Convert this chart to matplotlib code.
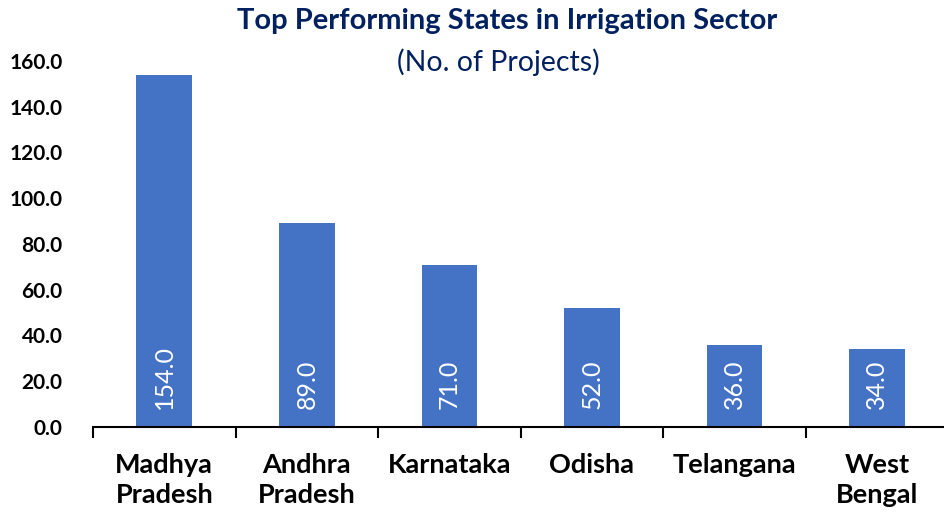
import matplotlib.pyplot as plt
import numpy as np

states = ['Madhya\nPradesh', 'Andhra\nPradesh', 'Karnataka', 'Odisha', 'Telangana', 'West\nBengal']
projects = [154.0, 89.0, 71.0, 52.0, 36.0, 34.0]
yticks = [0, 20, 40, 60, 80, 100, 120, 140, 160]

plt.rcParams['font.family'] = ['Lato', 'DejaVu Sans']

fig = plt.figure(figsize=(9.45, 5.15), dpi=100)
ax = fig.add_axes([0.0984, 0.1709, 0.905, 0.7107])

x = np.arange(len(states))
bars = ax.bar(x, projects, width=0.39, color='#4472C4', zorder=2)

for xi, v in zip(x, projects):
    ax.annotate('%.1f' % v, (xi, 0), xytext=(0, 13), textcoords='offset points',
                rotation=90, ha='center', va='bottom', color='white', fontsize=18)

ax.set_xlim(-0.5, len(states) - 0.5)
ax.set_ylim(0, 160)
ax.set_yticks(yticks)
ax.set_yticklabels(['%.1f' % t for t in yticks], fontsize=15, fontweight='bold')
ax.tick_params(axis='y', length=0, pad=22)

ax.set_xticks(x)
ax.set_xticklabels(states, fontsize=19.5, fontweight='bold', linespacing=1.3)
ax.tick_params(axis='x', which='major', length=0, pad=19)
ax.set_xticks(np.arange(len(states) + 1) - 0.5, minor=True)
ax.tick_params(axis='x', which='minor', length=8, width=1.5, color='black')

for s in ['top', 'right', 'left']:
    ax.spines[s].set_visible(False)
ax.spines['bottom'].set_linewidth(1.5)

fig.text(0.537, 0.943, 'Top Performing States in Irrigation Sector', ha='center', va='baseline',
         fontsize=21, fontweight='bold', color='#002060')
fig.text(0.527, 0.862, '(No. of Projects)', ha='center', va='baseline',
         fontsize=20.5, color='#002060')

fig.savefig('out.png', dpi=100)
